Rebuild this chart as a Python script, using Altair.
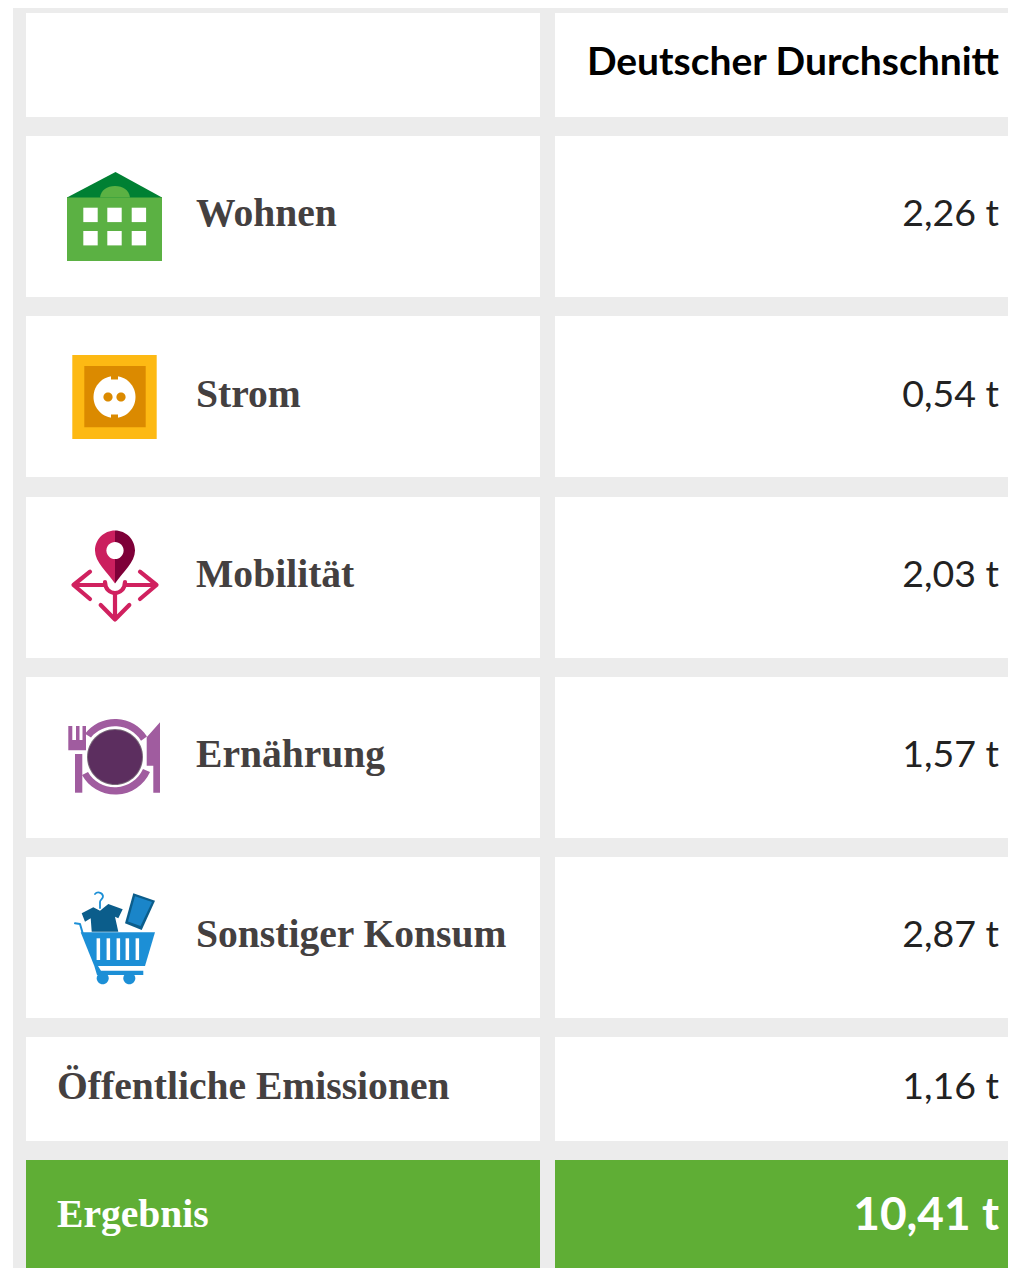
import altair as alt
import pandas as pd

# ---------- content ----------
ROW_LABELS = ["", "Wohnen", "Strom", "Mobilität", "Ernährung", "Sonstiger Konsum", "Öffentliche Emissionen", "Ergebnis"]
ROW_VALUES = ["Deutscher Durchschnitt", "2,26 t", "0,54 t", "2,03 t", "1,57 t", "2,87 t", "1,16 t", "10,41 t"]

# ---------- layout (page pixels of the table) ----------
ROW_TOP = [13, 136, 316, 497, 677, 857, 1037, 1160]
ROW_BOTTOM = [117, 297, 477, 658, 838, 1018, 1141, 1268]
BASELINE = [76, 226, 407, 587, 767, 947, 1099, 1227]
VALUE_BASELINE = [75, 226, 407, 587, 767, 947, 1099, 1230]
LABEL_X = [57, 196, 196, 196, 196, 196, 57, 57]
COL1 = (26, 540)
COL2 = (555, 1008)
VALUE_RIGHT = 999
GREY = "#ececec"
GREEN = "#5fae35"
TEXT = "#444040"
W, H = 1000, 1260


def circle(cx, cy, r):
    return f"M{cx - r},{cy}A{r},{r} 0 1 1 {cx + r},{cy}A{r},{r} 0 1 1 {cx - r},{cy}Z"


def box(x0, y0, x1, y1):
    return f"M{x0},{y0}L{x1},{y0}L{x1},{y1}L{x0},{y1}Z"


# ---------- icon glyphs, in pixels around an anchor ----------
A_HOUSE = (115, 217)
A_PLUG = (114.5, 397)
A_PIN = (115, 570)
A_PLATE = (115, 757)
A_CART = (115, 935)

ICON_FILLS = [
    # house
    (A_HOUSE, "#5bb143", box(-48, -20, 47, 44)),
    (A_HOUSE, "#008033", "M0.5,-45L47,-19.5L-48,-19.5Z"),
    (A_HOUSE, "#5bb143", "M-15,-19.5C-14,-27 -8,-31 0,-31C8,-31 14,-27 15,-19.5Z"),
    *[(A_HOUSE, "#ffffff", box(x, y, x + 14.4, y + 14.4))
      for y in (-9.3, 14) for x in (-31.7, -7.7, 16.7)],
    # socket
    (A_PLUG, "#fdb913", box(-42.2, -42, 42.2, 42)),
    (A_PLUG, "#db8a00", box(-30.2, -31, 31.2, 30.3)),
    (A_PLUG, "#ffffff", circle(0, 0, 21)),
    (A_PLUG, "#db8a00", box(-3.5, -22, 3.5, -17.5)),
    (A_PLUG, "#db8a00", box(-3.5, 17.5, 3.5, 22)),
    (A_PLUG, "#db8a00", circle(-6.5, 0, 4.6)),
    (A_PLUG, "#db8a00", circle(6.5, 0, 4.6)),
    # pin
    (A_PIN, "#cb1f5e", "M0,-39.5A20,20 0 0 0 -20,-19.5C-20,-8 -8,2 0,13.5Z"),
    (A_PIN, "#7e0038", "M0,-39.5A20,20 0 0 1 20,-19.5C20,-8 8,2 0,13.5Z"),
    (A_PIN, "#ffffff", circle(0, -19.5, 8.6)),
    # plate
    (A_PLATE, "#a05c9f", "M-30,-23.3A38,38 0 0 1 32,-20.5L26,-16.3A31,31 0 0 0 -24,-19.6Z"),
    (A_PLATE, "#a05c9f", "M-33,18A38,38 0 0 0 35,15L28,12A31,31 0 0 1 -27,15Z"),
    (A_PLATE, "#7a6a7a", circle(0, 0, 28)),
    (A_PLATE, "#5c2e5f", circle(0, 0, 27)),
    (A_PLATE, "#a05c9f", "M-46.7,-31L-42.7,-31L-42.7,-17L-39,-17L-39,-31L-35.5,-31L-35.5,-17L-32.5,-17L-32.5,-31L-29,-31L-29,-6.7L-46.7,-6.7Z"),
    (A_PLATE, "#a05c9f", box(-40, -3, -32.7, 35.7)),
    (A_PLATE, "#a05c9f", "M45,-34.7L45,35.7L38.3,35.7L38.3,8.7L31.7,8.7L31.7,-19.7Z"),
    # cart
    (A_CART, "#1c8fd6", "M-34.3,-2.7L40,-2.7L30,31L-20.7,31Z"),
    *[(A_CART, "#ffffff", box(x, 3.3, x + 3.5, 25)) for x in (-18.4, -8.4, 1.6, 10.6, 20.6)],
    (A_CART, "#1c8fd6", "M-20.7,31L-17,31L-14,35.7L28.3,35.7L28.3,40L-18,40Z"),
    (A_CART, "#1c8fd6", circle(-12.3, 43.3, 6)),
    (A_CART, "#1c8fd6", circle(14.3, 43.3, 6)),
    (A_CART, "#0b5d8b", "M-33.3,-21.7L-21.7,-27.7L-15,-24.3L-6.7,-31L7.7,-25.7L3.3,-16.7L0,-18.3L3.3,-3.3L-23.3,-3.3L-24.3,-16.7L-30,-13.3Z"),
    (A_CART, "#0b5d8b", "M18.3,-41.7L40,-34.3L26.7,-5L10,-11.7Z"),
    (A_CART, "#1a85c9", "M20,-38.7L37,-33L25.5,-9L13,-13.5Z"),
]

ICON_STROKES = [
    (A_PIN, "#d0215f", 4.2, "M-10,15L-41.5,15M-25,1.7L-41.5,15L-25,29"),
    (A_PIN, "#d0215f", 4.2, "M10,15L41.5,15M25,1.7L41.5,15L25,29"),
    (A_PIN, "#d0215f", 4.2, "M0,23L0,49.5M-14.3,35L0,49.5L14.3,35"),
    (A_PIN, "#d0215f", 4.2, "M-10,12C-10,19 -5,23 0,23C5,23 10,19 10,12"),
    (A_CART, "#1c8fd6", 2.0, "M-40,-11.7L-35,-11L-32.3,-1.7"),
    (A_CART, "#1c8fd6", 1.8, "M-20,-41C-18,-43.5 -13,-43 -12,-39C-11.7,-36 -15,-35.5 -15,-33L-15,-27"),
]

# ---------- tables ----------
cells = []
for i, (t, b) in enumerate(zip(ROW_TOP, ROW_BOTTOM)):
    colour = GREEN if ROW_LABELS[i] == "Ergebnis" else "#ffffff"
    for c in (COL1, COL2):
        cells.append({"x": c[0], "x2": c[1], "y": t, "y2": b, "c": colour})
cells = pd.DataFrame(cells)

background = pd.DataFrame([{"x": 13, "x2": 8 + W, "y": 8, "y2": 8 + H, "c": GREY}])

fills = pd.DataFrame(
    [{"x": a[0], "y": a[1], "c": c, "p": p, "i": i} for i, (a, c, p) in enumerate(ICON_FILLS)]
)
strokes = pd.DataFrame(
    [{"x": a[0], "y": a[1], "c": c, "w": w, "p": p, "i": i} for i, (a, c, w, p) in enumerate(ICON_STROKES)]
)

labels = pd.DataFrame({"x": LABEL_X, "y": BASELINE, "t": ROW_LABELS})
labels["c"] = [("#ffffff" if t == "Ergebnis" else TEXT) for t in ROW_LABELS]
labels = labels[labels.t != ""]

values = pd.DataFrame({"x": VALUE_RIGHT, "y": VALUE_BASELINE, "t": ROW_VALUES})
plain = values.iloc[1:-1]
header = values.iloc[[0]]
total = values.iloc[[-1]]

# ---------- scales ----------
X = alt.X("x:Q", scale=alt.Scale(domain=[8, 8 + W], nice=False, zero=False), axis=None)
Y = alt.Y("y:Q", scale=alt.Scale(domain=[8 + H, 8], nice=False, zero=False), axis=None)
X2 = alt.X2("x2:Q")
Y2 = alt.Y2("y2:Q")
COLOUR = alt.Color("c:N", scale=None)


def rects(df):
    return alt.Chart(df).mark_rect().encode(x=X, x2=X2, y=Y, y2=Y2, color=COLOUR)


icon_strokes = alt.Chart(strokes).mark_point(filled=False, opacity=1, size=4, strokeCap="round", strokeJoin="round").encode(
    x=X, y=Y, stroke=alt.Stroke("c:N", scale=None),
    strokeWidth=alt.StrokeWidth("w:Q", scale=None),
    shape=alt.Shape("p:N", scale=None), order="i:Q",
)
icon_fills = alt.Chart(fills).mark_point(filled=True, opacity=1, size=4, strokeWidth=0).encode(
    x=X, y=Y, fill=alt.Fill("c:N", scale=None),
    shape=alt.Shape("p:N", scale=None), order="i:Q",
)

label_text = alt.Chart(labels).mark_text(
    align="left", baseline="alphabetic", font="Liberation Serif", fontWeight="bold", fontSize=39.6
).encode(x=X, y=Y, text="t:N", color=COLOUR)

value_text = alt.Chart(plain).mark_text(
    align="right", baseline="alphabetic", font="Lato", fontSize=37.5, color="#222222"
).encode(x=X, y=Y, text="t:N")

header_text = alt.Chart(header).mark_text(
    align="right", baseline="alphabetic", font="Lato", fontWeight="bold", fontSize=39, color="#000000"
).encode(x=X, y=Y, text="t:N")

total_text = alt.Chart(total).mark_text(
    align="right", baseline="alphabetic", font="Lato", fontWeight="bold", fontSize=46, color="#ffffff"
).encode(x=X, y=Y, text="t:N")

chart = alt.layer(
    rects(background), rects(cells), icon_strokes, icon_fills,
    label_text, value_text, header_text, total_text,
).properties(width=W, height=H, padding=0, background="#ffffff").configure_view(stroke=None)

chart.save("out.html", embed_options={"renderer": "svg", "actions": False})
